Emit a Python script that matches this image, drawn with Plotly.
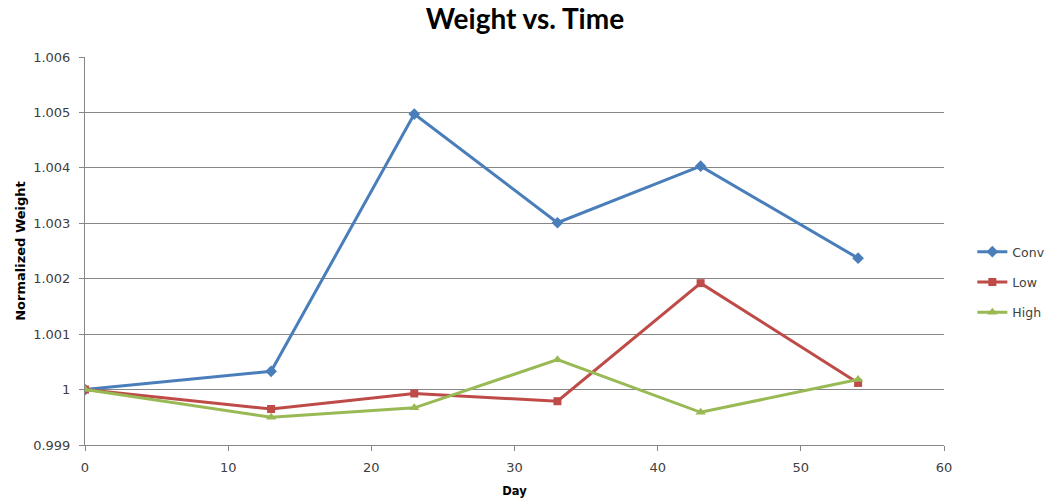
import plotly.graph_objects as go

# Measurement days and normalized weight per treatment
days = [0, 13, 23, 33, 43, 54]
conv = [1.00000, 1.00033, 1.00497, 1.00301, 1.00403, 1.00237]
low = [1.00000, 0.99965, 0.99993, 0.99979, 1.00192, 1.00012]
high = [1.00000, 0.99950, 0.99967, 1.00054, 0.99959, 1.00018]

y_ticks = [0.999, 1.000, 1.001, 1.002, 1.003, 1.004, 1.005, 1.006]
y_tick_text = ["0.999", "1", "1.001", "1.002", "1.003", "1.004", "1.005", "1.006"]
x_ticks = [0, 10, 20, 30, 40, 50, 60]

title_font = "Lato, 'Liberation Sans', sans-serif"
body_font = "'DejaVu Sans', sans-serif"

series = [
    ("Conv", conv, "#4A7EBB", "diamond", 9),
    ("Low", low, "#BE4B48", "square", 8),
    ("High", high, "#98B954", "triangle-up", 9),
]

fig = go.Figure()
for name, vals, color, symbol, msize in series:
    fig.add_trace(go.Scatter(
        x=days, y=vals, name=name, mode="lines+markers",
        line=dict(color=color, width=3),
        marker=dict(symbol=symbol, size=msize, color=color),
        legendgroup=name,
    ))

fig.update_layout(
    width=1050, height=502,
    margin=dict(l=85, r=106, t=57, b=57, autoexpand=False),
    paper_bgcolor="white", plot_bgcolor="white",
    font=dict(family=body_font, size=13, color="#404040"),
    title=dict(text="<b>Weight vs. Time</b>", x=0.5, xanchor="center",
               y=0.962, yanchor="middle",
               font=dict(family=title_font, size=28, color="black")),
    legend=dict(x=1.033, xanchor="left", y=0.42, yanchor="middle",
                font=dict(family=body_font, size=12.5, color="#404040"),
                tracegroupgap=11, bgcolor="rgba(0,0,0,0)"),
    showlegend=True,
)

fig.update_xaxes(
    range=[0, 60], tickvals=x_ticks, showgrid=False,
    showline=True, linecolor="#868686", linewidth=1,
    ticks="outside", ticklen=5, tickcolor="#868686",
    ticklabelstandoff=5,
    tickfont=dict(family=body_font, size=13, color="#404040"),
    title=dict(text="<b>Day</b>", font=dict(family=body_font, size=11.5, color="black"), standoff=13),
    zeroline=False,
)
fig.update_yaxes(
    range=[0.999, 1.006], tickvals=y_ticks, ticktext=y_tick_text,
    showgrid=True, gridcolor="#868686", gridwidth=1,
    showline=True, linecolor="#868686", linewidth=1,
    ticks="outside", ticklen=5, tickcolor="#868686",
    ticklabelstandoff=6,
    tickfont=dict(family=body_font, size=13, color="#404040"),
    title=dict(text="<b>Normalized Weight</b>", font=dict(family=body_font, size=13, color="black"), standoff=4),
    zeroline=False,
)

fig.write_html("out.html")
